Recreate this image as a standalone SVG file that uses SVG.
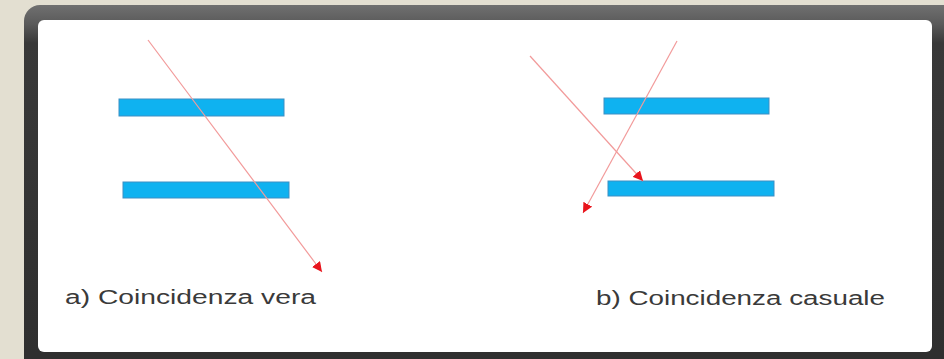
<svg xmlns="http://www.w3.org/2000/svg" width="944" height="359" viewBox="0 0 944 359">
  <style>
    .bar { fill: #0fb2f0; stroke: #3d8fc4; stroke-width: 1; }
    .ray { stroke: #f29a9a; stroke-width: 1.2; fill: none; }
    .lbl { font-family: "Liberation Sans", Arial, sans-serif; font-size: 20px; fill: #3a3a3a; }
  </style>
  <defs>
    <linearGradient id="frameGrad" x1="0" y1="0" x2="0" y2="1">
      <stop offset="0" stop-color="#707070"/>
      <stop offset="0.05" stop-color="#5a5a5a"/>
      <stop offset="0.1" stop-color="#393939"/>
      <stop offset="1" stop-color="#2e2e2e"/>
    </linearGradient>
    <marker id="arrow" viewBox="0 0 10 10" refX="10" refY="5" markerWidth="10" markerHeight="10" markerUnits="userSpaceOnUse" orient="auto">
      <path d="M0,0 L10,5 L0,10 z" fill="#e8141c"/>
    </marker>
  </defs>

  <rect x="0" y="0" width="944" height="359" fill="#e3dfd1"/>
  <rect x="24" y="5" width="940" height="380" rx="16" ry="16" fill="url(#frameGrad)"/>
  <rect x="38" y="20" width="894" height="332" rx="6" ry="6" fill="#ffffff"/>

  <g id="a-top-detector"><rect class="bar" x="119" y="99" width="165" height="17"/></g>
  <g id="a-bottom-detector"><rect class="bar" x="123" y="182" width="166" height="16"/></g>
  <g id="b-top-detector"><rect class="bar" x="604" y="98" width="165" height="16"/></g>
  <g id="b-bottom-detector"><rect class="bar" x="608" y="181" width="166" height="15"/></g>

  <g id="connectors">
    <line class="ray" x1="148" y1="40" x2="322" y2="272" marker-end="url(#arrow)"/>
    <line class="ray" x1="530" y1="56" x2="643" y2="181" marker-end="url(#arrow)"/>
    <line class="ray" x1="677" y1="41" x2="583" y2="213" marker-end="url(#arrow)"/>
  </g>

  <g id="label-a"><text class="lbl" x="65" y="304" textLength="251" lengthAdjust="spacingAndGlyphs">a) Coincidenza vera</text></g>
  <g id="label-b"><text class="lbl" x="596" y="305" textLength="289" lengthAdjust="spacingAndGlyphs">b) Coincidenza casuale</text></g>
</svg>
